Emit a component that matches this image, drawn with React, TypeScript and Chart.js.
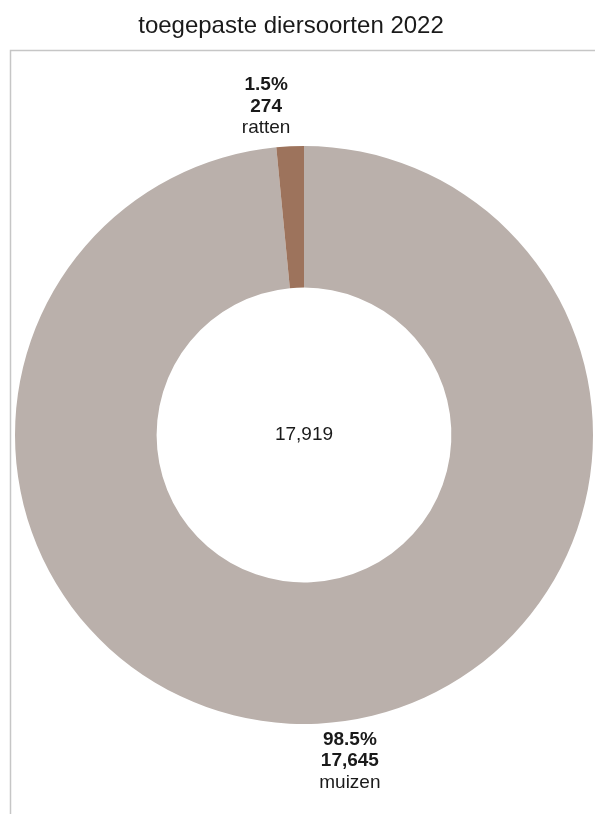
import React, { useEffect, useRef } from "react";
import { Chart, registerables } from "chart.js";

Chart.register(...registerables);

const TITLE = "toegepaste diersoorten 2022";
const CATEGORIES = ["muizen", "ratten"];
const VALUES = [17645, 274];
const COLORS = ["#bab0ab", "#9d735c"];
const LABEL_DX = [32, -24];

const FONT = "'Liberation Sans', Arial, sans-serif";

const decorPlugin = {
  id: "decor",
  beforeDraw(chart: any) {
    const ctx = chart.ctx;
    ctx.save();
    ctx.fillStyle = "#ffffff";
    ctx.fillRect(0, 0, chart.width, chart.height);
    // frame
    ctx.strokeStyle = "#c6c6c6";
    ctx.lineWidth = 1.5;
    ctx.beginPath();
    ctx.moveTo(10.5, chart.height);
    ctx.lineTo(10.5, 50.5);
    ctx.lineTo(chart.width, 50.5);
    ctx.stroke();
    // title
    ctx.fillStyle = "#1a1a1a";
    ctx.font = `24px ${FONT}`;
    ctx.textAlign = "center";
    ctx.textBaseline = "alphabetic";
    ctx.fillText(TITLE, 291, 33);
    ctx.restore();
  },
  afterDatasetsDraw(chart: any) {
    const ctx = chart.ctx;
    const meta = chart.getDatasetMeta(0);
    const data: number[] = chart.data.datasets[0].data;
    const total = data.reduce((a, b) => a + b, 0);
    ctx.save();
    ctx.fillStyle = "#1a1a1a";
    ctx.textAlign = "center";
    ctx.textBaseline = "alphabetic";
    let cx = 0, cy = 0;
    meta.data.forEach((arc: any, i: number) => {
      const p = arc.getProps(["x", "y", "startAngle", "endAngle", "outerRadius"], true);
      cx = p.x; cy = p.y;
      const mid = (p.startAngle + p.endAngle) / 2;
      const ax = p.x + Math.cos(mid) * p.outerRadius;
      const ay = p.y + Math.sin(mid) * p.outerRadius;
      const pct = ((data[i] / total) * 100).toFixed(1) + "%";
      const lines = [
        { t: pct, bold: true },
        { t: data[i].toLocaleString("en-US"), bold: true },
        { t: chart.data.labels[i], bold: false },
      ];
      const lh = 21.5;
      const x = ax + LABEL_DX[i];
      let firstBase: number;
      if (ay < p.y) {
        firstBase = ay - 13 - lh * (lines.length - 1);
      } else {
        firstBase = ay + 21;
      }
      lines.forEach((l, k) => {
        ctx.font = `${l.bold ? "bold " : ""}19px ${FONT}`;
        ctx.fillText(l.t, x, firstBase + k * lh);
      });
    });
    ctx.font = `19px ${FONT}`;
    ctx.textBaseline = "middle";
    ctx.fillText(total.toLocaleString("en-US"), cx, cy);
    ctx.restore();
  },
};

export default function App() {
  const ref = useRef<HTMLCanvasElement | null>(null);
  useEffect(() => {
    document.body.style.margin = "0";
    const canvas = ref.current!;
    const chart = new Chart(canvas, {
      type: "doughnut",
      data: {
        labels: CATEGORIES,
        datasets: [
          {
            data: VALUES,
            backgroundColor: COLORS,
            borderWidth: 0,
          },
        ],
      },
      options: {
        animation: false,
        responsive: false,
        cutout: "51%",
        rotation: 0,
        layout: { padding: { left: 15, right: 2, top: 146, bottom: 90 } },
        plugins: {
          legend: { display: false },
          title: { display: false },
          tooltip: { enabled: false },
        },
      },
      plugins: [decorPlugin],
    });
    return () => chart.destroy();
  }, []);
  return (
    <div style={{ width: 595, height: 814 }}>
      <canvas ref={ref} width={595} height={814} style={{ display: "block", width: 595, height: 814 }} />
    </div>
  );
}
